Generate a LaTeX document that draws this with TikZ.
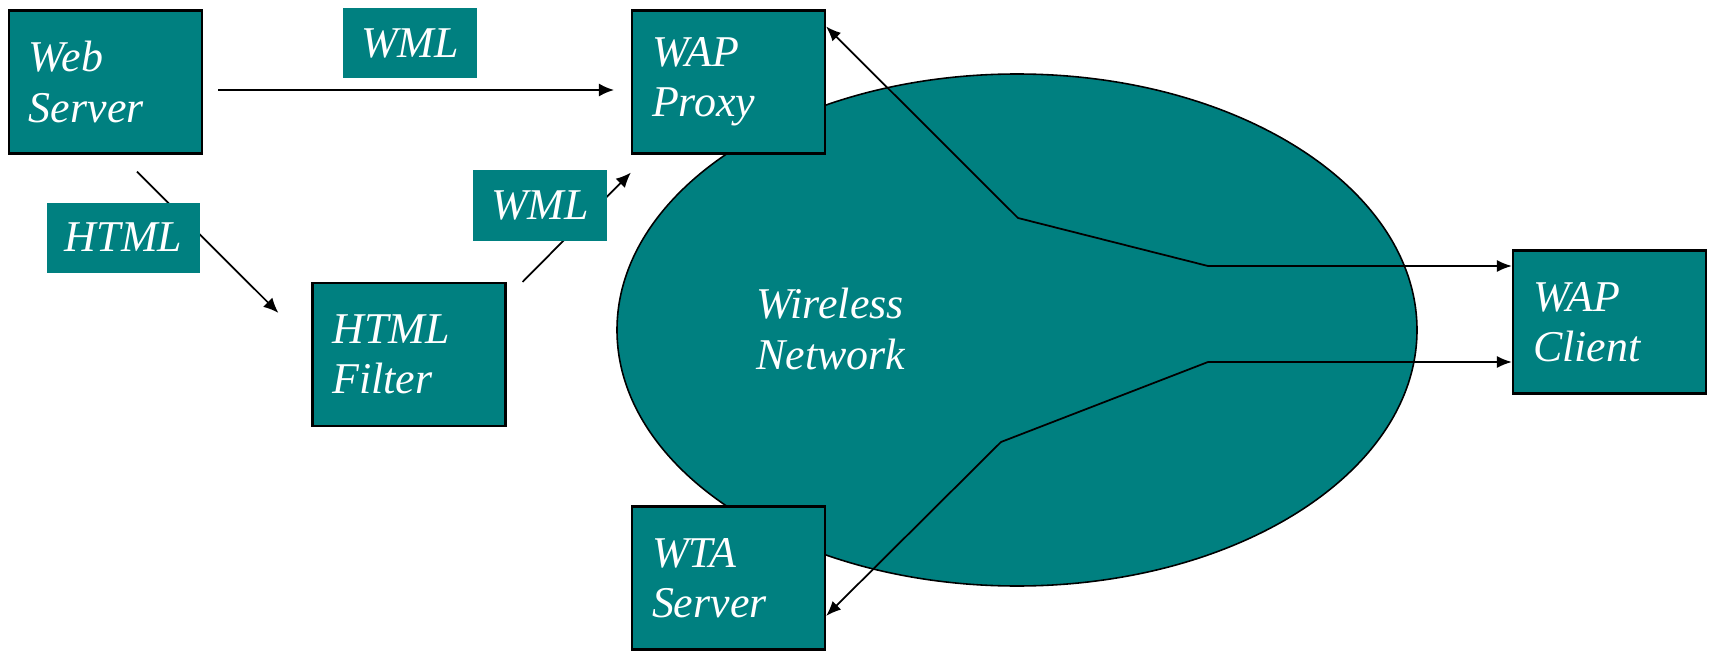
\documentclass[tikz,border=0pt]{standalone}
\usepackage{fontspec}
\setmainfont{Liberation Serif}
\usepackage{tikz}
\usetikzlibrary{arrows.meta}
\definecolor{wapteal}{RGB}{0,128,128}

\begin{document}
\begin{tikzpicture}[
	box/.style={draw=black,line width=1.2pt,fill=wapteal,text=white,minimum height=2.86cm,inner xsep=0.4cm,text width=3.06cm,align=left,font=\fontsize{25}{28.5}\selectfont\itshape},
	tag/.style={fill=wapteal,text=white,inner sep=0pt,minimum height=1.4cm,font=\fontsize{25}{28.5}\selectfont\itshape},
	arr/.style={line width=1pt,-{Latex[length=0.3cm,width=0.26cm]}},
	darr/.style={line width=1pt,{Latex[length=0.3cm,width=0.24cm]}-{Latex[length=0.3cm,width=0.24cm]}}]
	\useasboundingbox (0,0) rectangle (34.28,-13.02);
	\draw [line width=0.9pt,fill=wapteal] (20.34,-6.6) ellipse (8.0cm and 5.12cm);
	\node [white,align=left,font=\fontsize{25}{28.5}\selectfont\itshape] (net) at (16.62,-6.58) {Wireless\\Network};
	\node [box] (ws) at (2.11,-1.64) {Web\\Server};
	\node [box] (wp) at (14.57,-1.64) {WAP\\Proxy};
	\node [box] (hf) at (8.18,-7.09) {HTML\\Filter};
	\node [box] (wt) at (14.57,-11.56) {WTA\\Server};
	\node [box] (wc) at (32.19,-6.44) {WAP\\Client};
	\coordinate (up1) at (20.36,-4.36);
	\coordinate (up2) at (24.16,-5.32);
	\coordinate (lo1) at (24.16,-7.24);
	\coordinate (lo2) at (20.02,-8.84);
	\draw [arr,shorten <=0.3cm,shorten >=0.34cm] ([yshift=-0.16cm]ws.east) -- ([yshift=-0.16cm]wp.west);
	\draw [arr] ([xshift=0.63cm,yshift=-0.34cm]ws.south) -- ([xshift=-0.66cm,yshift=-0.62cm]hf.north west);
	\draw [arr] ([xshift=0.32cm]hf.north east) -- ([yshift=-0.36cm]wp.south west);
	\draw [darr] ([yshift=-0.34cm]wp.north east) -- (up1) -- (up2) -- ([yshift=1.12cm]wc.west);
	\draw [darr] ([yshift=-0.76cm]wt.east) -- (lo2) -- (lo1) -- ([yshift=-0.8cm]wc.west);
	\node [tag,minimum width=2.68cm] (wml1) at (8.2,-0.87) {WML};
	\node [tag,minimum width=3.06cm] (html) at (2.47,-4.75) {HTML};
	\node [tag,minimum width=2.68cm] (wml2) at (10.8,-4.11) {WML};
\end{tikzpicture}
\end{document}
